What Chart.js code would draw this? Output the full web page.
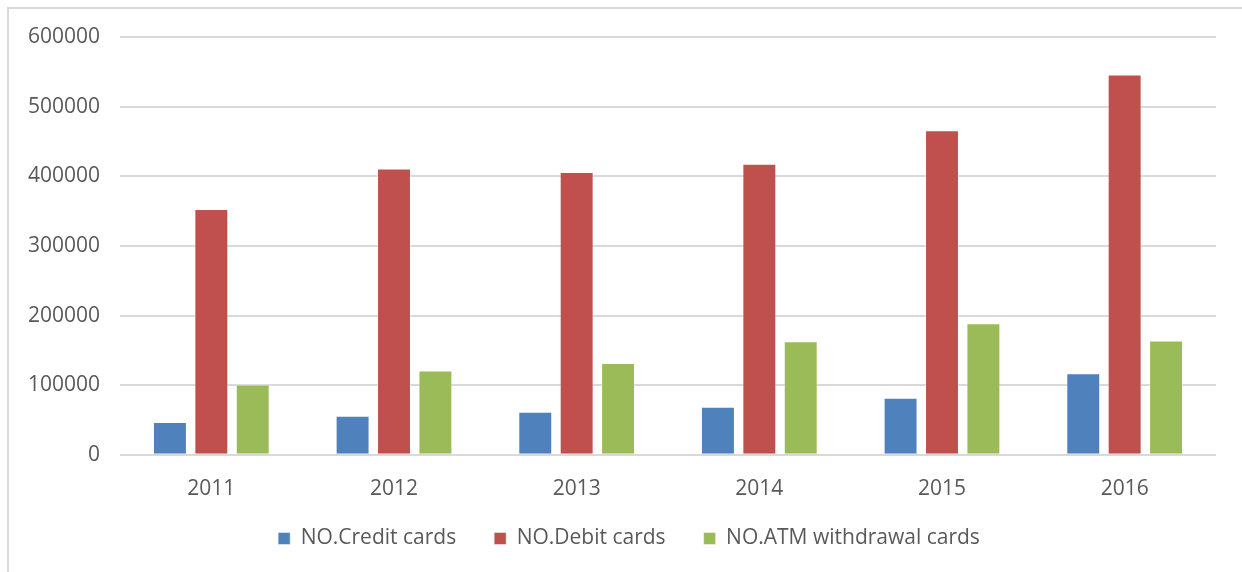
<!DOCTYPE html>
<html>
<head>
<meta charset="utf-8">
<script src="https://cdn.jsdelivr.net/npm/chart.js@4/dist/chart.umd.min.js"></script>
<style>
    html, body { margin: 0; padding: 0; background: #fff; }
    .frame {
        position: absolute; left: 7px; top: 7px; width: 1300px; height: 600px;
        border-left: 2px solid #d9d9d9; border-top: 2px solid #d9d9d9;
        pointer-events: none;
    }
    .wrap { position: absolute; left: 0; top: 0; width: 1242px; height: 572px; }
</style>
</head>
<body>
<div class="wrap"><canvas id="cardsChart"></canvas></div>
<div class="frame"></div>
<script>
const years = ['2011', '2012', '2013', '2014', '2015', '2016'];
const creditCards = [47000, 56000, 62000, 69000, 82000, 117000];
const debitCards = [353000, 411000, 406000, 418000, 466000, 546000];
const atmCards = [101000, 121000, 132000, 163000, 189000, 164000];
const yTicks = [0, 100000, 200000, 300000, 400000, 500000, 600000];

const textColor = '#595959';
const gridColor = '#d9d9d9';
const fontFamily = '"Open Sans", "Noto Sans", sans-serif';

// legend keeps wide spacing between items but takes less room above the items,
// and sits a little right of the plot centre
const LEGEND_TRIM = 26;
const LEGEND_SHIFT_X = 21;
const legendTrim = {
    id: 'legendTrim',
    afterInit(chart) {
        const legend = chart.legend;
        if (!legend) return;
        const fit = legend.fit.bind(legend);
        const draw = legend.draw.bind(legend);
        legend.fit = function () { fit(); this.height -= LEGEND_TRIM; };
        legend.draw = function () {
            this.top -= LEGEND_TRIM;
            this.left += LEGEND_SHIFT_X;
            this.right += LEGEND_SHIFT_X;
            draw();
            this.top += LEGEND_TRIM;
            this.left -= LEGEND_SHIFT_X;
            this.right -= LEGEND_SHIFT_X;
        };
    }
};

const bar = (label, data, color) => ({
    label,
    data,
    backgroundColor: color,
    borderColor: 'rgba(255,255,255,0.45)',
    borderWidth: 1,
    categoryPercentage: 0.68,
    barPercentage: 0.82
});

Chart.defaults.font.family = fontFamily;
Chart.defaults.color = textColor;

new Chart(document.getElementById('cardsChart'), {
    type: 'bar',
    data: {
        labels: years,
        datasets: [
            bar('NO.Credit cards', creditCards, '#4f81bd'),
            bar('NO.Debit cards', debitCards, '#c0504d'),
            bar('NO.ATM withdrawal cards', atmCards, '#9bbb59')
        ]
    },
    plugins: [legendTrim],
    options: {
        responsive: true,
        maintainAspectRatio: false,
        animation: false,
        layout: { padding: { left: 0, right: 26, top: 37, bottom: 13 } },
        plugins: {
            tooltip: { enabled: false },
            legend: {
                position: 'bottom',
                labels: {
                    boxWidth: 12,
                    boxHeight: 12,
                    padding: 38,
                    font: { size: 21 },
                    color: textColor
                }
            }
        },
        scales: {
            x: {
                grid: { display: false },
                border: { display: false },
                ticks: { font: { size: 21 }, color: textColor, padding: 14 }
            },
            y: {
                min: 0,
                max: 600000,
                afterBuildTicks: (scale) => {
                    scale.ticks = yTicks.map(v => ({ value: v }));
                },
                afterFit: (scale) => { scale.width = 120; },
                grid: { color: gridColor, lineWidth: 2, drawTicks: false },
                border: { display: false },
                ticks: {
                    font: { size: 21 },
                    color: textColor,
                    padding: 20,
                    callback: (v) => String(v)
                }
            }
        }
    }
});
</script>
</body>
</html>
